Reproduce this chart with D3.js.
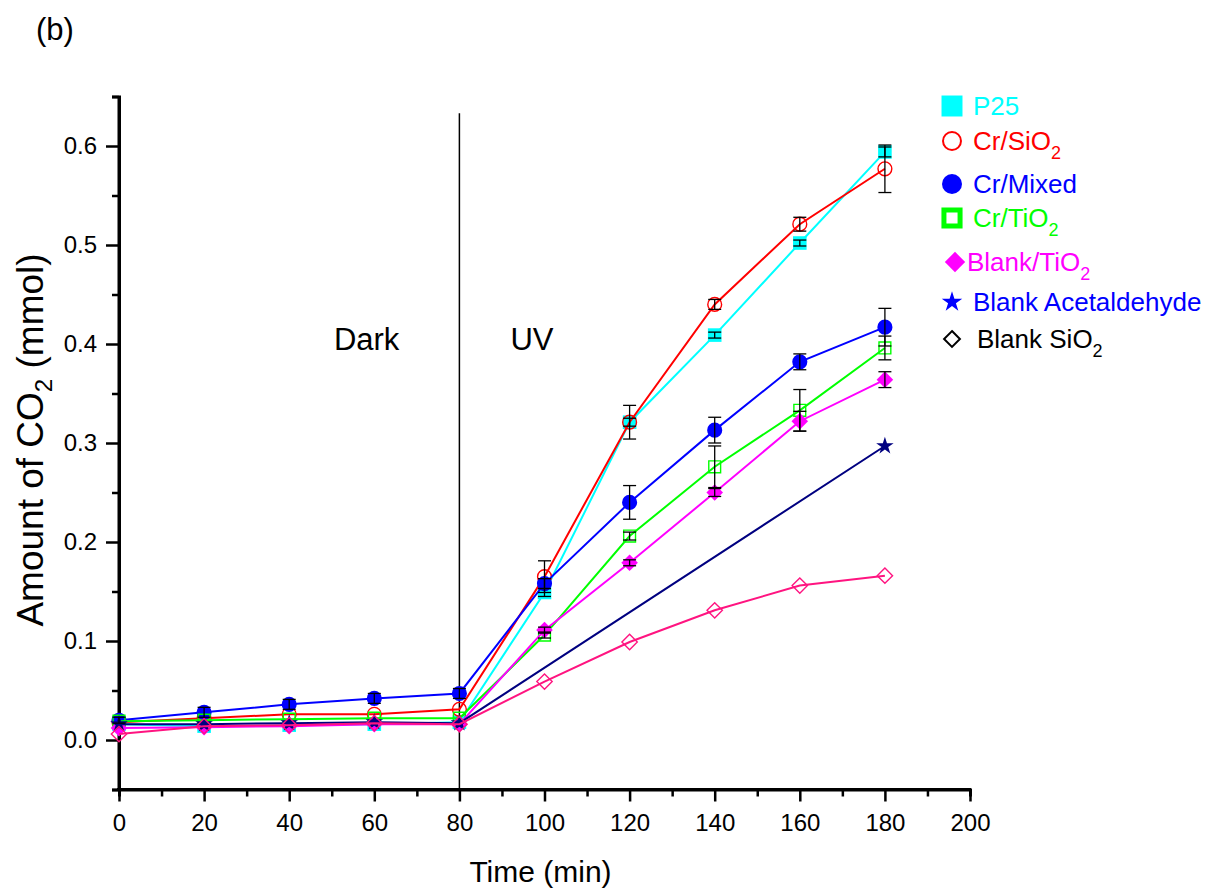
<!DOCTYPE html>
<html>
<head>
<meta charset="utf-8">
<script src="https://cdn.jsdelivr.net/npm/d3@7"></script>
<style>
  html, body { margin: 0; padding: 0; background: #fff; }
  svg text { font-family: "Liberation Sans", Arial, sans-serif; }
</style>
</head>
<body>
<svg id="chart" width="1216" height="888"></svg>
<script>
// Time points (min)
const times = [0, 20, 40, 60, 80, 100, 120, 140, 160, 180];

// CO2 evolved (mmol) for each sample
const p25        = [0.016, 0.014, 0.015, 0.016, 0.018, 0.149, 0.321, 0.409, 0.502, 0.594];
const crSiO2     = [0.018, 0.022, 0.026, 0.026, 0.031, 0.165, 0.321, 0.440, 0.521, 0.577];
const crMixed    = [0.020, 0.028, 0.036, 0.042, 0.047, 0.158, 0.240, 0.313, 0.382, 0.417];
const crTiO2     = [0.019, 0.020, 0.021, 0.022, 0.022, 0.106, 0.206, 0.276, 0.333, 0.396];
const blankTiO2  = [0.012, 0.013, 0.014, 0.016, 0.016, 0.111, 0.179, 0.250, 0.322, 0.364];
const acetTimes  = [0, 20, 40, 60, 80, 180];
const blankAcet  = [0.016, 0.016, 0.017, 0.018, 0.017, 0.297];
const blankSiO2  = [0.006, 0.014, 0.015, 0.017, 0.016, 0.059, 0.099, 0.131, 0.156, 0.166];

// Standard deviations (mmol)
const p25Err       = [0, 0, 0, 0, 0, 0.004, 0.004, 0.003, 0.003, 0.005];
const crSiO2Err    = [0, 0, 0, 0, 0, 0.016, 0.017, 0.005, 0.007, 0.024];
const crMixedErr   = [0.003, 0.005, 0.005, 0.005, 0.005, 0.005, 0.017, 0.013, 0.008, 0.019];
const crTiO2Err    = [0, 0, 0, 0, 0, 0.003, 0.004, 0.021, 0.021, 0.012];
const blankTiO2Err = [0, 0, 0, 0, 0, 0.003, 0.003, 0.004, 0.010, 0.008];

// Axis ticks
const xTicks = [0, 20, 40, 60, 80, 100, 120, 140, 160, 180, 200];
const yTicks = [0.0, 0.1, 0.2, 0.3, 0.4, 0.5, 0.6];

const series = [
  { name: "P25",               sub: "",  times: times,     values: p25,       errs: p25Err,       color: "#00ffff", legendColor: "#00ffff", symbol: "square",  fill: true  },
  { name: "Cr/SiO",            sub: "2", times: times,     values: crSiO2,    errs: crSiO2Err,    color: "#ff0000", legendColor: "#ff0000", symbol: "circle",  fill: false },
  { name: "Cr/Mixed",          sub: "",  times: times,     values: crMixed,   errs: crMixedErr,   color: "#0000ff", legendColor: "#0000ff", symbol: "circle",  fill: true  },
  { name: "Cr/TiO",            sub: "2", times: times,     values: crTiO2,    errs: crTiO2Err,    color: "#00ff00", legendColor: "#00ff00", symbol: "square",  fill: false },
  { name: "Blank/TiO",         sub: "2", times: times,     values: blankTiO2, errs: blankTiO2Err, color: "#ff00ff", legendColor: "#ff00ff", symbol: "diamond", fill: true  },
  { name: "Blank Acetaldehyde",sub: "",  times: acetTimes, values: blankAcet, errs: null,         color: "#000080", legendColor: "#0000ff", symbol: "star",    fill: true  },
  { name: "Blank SiO",         sub: "2", times: times,     values: blankSiO2, errs: null,         color: "#ff1480", legendColor: "#000000", symbol: "diamond", fill: false }
];

const svg = d3.select("#chart");
const margin = { left: 119, right: 246, top: 96.5, bottom: 98.5 };
const W = 1216, H = 888;

const x = d3.scaleLinear().domain([0, 200]).range([margin.left, W - margin.right]);
const y = d3.scaleLinear().domain([-0.05, 0.65]).range([H - margin.bottom, margin.top]);

// Panel label
svg.append("text").attr("x", 36).attr("y", 40).attr("font-size", 31).text("(b)");

// Dark / UV divider
svg.append("line")
  .attr("x1", x(80)).attr("x2", x(80))
  .attr("y1", y(0.633)).attr("y2", y(-0.05))
  .attr("stroke", "#000").attr("stroke-width", 1.5);
svg.append("text").attr("x", x(50.5)).attr("y", y(0.394)).attr("font-size", 31).text("Dark");
svg.append("text").attr("x", x(92)).attr("y", y(0.394)).attr("font-size", 31).text("UV");

// Axes
const xAxisG = svg.append("g").attr("transform", `translate(0,${y(-0.05)})`);
xAxisG.call(d3.axisBottom(x).tickValues(xTicks).tickFormat(d3.format("d")).tickSize(12).tickPadding(12));
xAxisG.append("g").call(d3.axisBottom(x).tickValues(d3.range(10, 200, 20)).tickFormat("").tickSize(7));

const yAxisG = svg.append("g").attr("transform", `translate(${x(0)},0)`);
yAxisG.call(d3.axisLeft(y).tickValues(yTicks).tickFormat(d3.format(".1f")).tickSize(13).tickPadding(9));
yAxisG.append("g").call(d3.axisLeft(y).tickValues([-0.05, 0.05, 0.15, 0.25, 0.35, 0.45, 0.55, 0.65]).tickFormat("").tickSize(7));

svg.selectAll(".domain").attr("stroke", "#000").attr("stroke-width", 3);
svg.selectAll(".tick line").attr("stroke", "#000").attr("stroke-width", 2.5);
svg.selectAll(".tick text").attr("font-size", 24).attr("fill", "#000")
  .attr("font-family", "'Liberation Sans', Arial, sans-serif");
// extend the axis lines a touch past the end ticks
xAxisG.select(".domain").attr("d", `M${x(0) - 2},0H${x(200) + 1}`);
yAxisG.select(".domain").attr("d", `M0,${y(0.65)}V${y(-0.05) + 1}`);

// Axis titles
svg.append("text")
  .attr("x", (x(0) + x(200)) / 2 - 4).attr("y", 882)
  .attr("text-anchor", "middle").attr("font-size", 30).text("Time (min)");
const yTitle = svg.append("text")
  .attr("transform", `translate(43,${(y(0.65) + y(-0.05)) / 2 - 3}) rotate(-90)`)
  .attr("text-anchor", "middle").attr("font-size", 37);
yTitle.append("tspan").text("Amount of CO");
yTitle.append("tspan").attr("font-size", 24).attr("dy", 9).text("2");
yTitle.append("tspan").attr("dy", -9).text(" (mmol)");

// Marker drawing
function symbolPath(kind, size) {
  const types = { square: d3.symbolSquare, circle: d3.symbolCircle, diamond: d3.symbolDiamond2, star: d3.symbolStar };
  return d3.symbol().type(types[kind]).size(size)();
}
// marker areas in the plot (filled / open)
const plotSize = {
  square:  { fill: 185, open: 140 },
  circle:  { fill: 180, open: 150 },
  diamond: { fill: 175, open: 150 },
  star:    { fill: 95,  open: 95 }
};
// marker areas in the legend (filled / open)
const legendSize = {
  square:  { fill: 440, open: 260 },
  circle:  { fill: 314, open: 254 },
  diamond: { fill: 264, open: 160 },
  star:    { fill: 130, open: 130 }
};

const line = d3.line().x(d => x(d.t)).y(d => y(d.v));

series.forEach(s => {
  const pts = s.times.map((t, i) => ({ t: t, v: s.values[i] }));
  const g = svg.append("g");
  g.append("path").datum(pts).attr("d", line)
    .attr("fill", "none").attr("stroke", s.color).attr("stroke-width", 2);
  const sz = plotSize[s.symbol][s.fill ? "fill" : "open"];
  g.selectAll("path.m").data(pts).join("path")
    .attr("class", "m")
    .attr("transform", d => `translate(${x(d.t)},${y(d.v)})`)
    .attr("d", symbolPath(s.symbol, sz))
    .attr("fill", s.fill ? s.color : "none")
    .attr("stroke", s.fill ? "none" : s.color)
    .attr("stroke-width", 1.4);
});

// Error bars
series.filter(s => s.errs).forEach(s => {
  const pts = s.times.map((t, i) => ({ t: t, v: s.values[i], e: s.errs[i] })).filter(d => d.e > 0);
  const g = svg.append("g").attr("stroke", "#000").attr("stroke-width", 1.3);
  pts.forEach(d => {
    const cx = x(d.t);
    g.append("line").attr("x1", cx).attr("x2", cx).attr("y1", y(d.v - d.e)).attr("y2", y(d.v + d.e));
    [d.v - d.e, d.v + d.e].forEach(v => {
      g.append("line").attr("x1", cx - 6.5).attr("x2", cx + 6.5).attr("y1", y(v)).attr("y2", y(v));
    });
  });
});

// Legend
const legendRows = [106, 141, 184, 218, 262, 302, 339];
const legendTextX = [973, 973, 973, 973, 967, 973, 977];
const legend = svg.append("g");
series.forEach((s, i) => {
  const ry = legendRows[i];
  const mx = s.symbol === "diamond" && s.fill ? 955 : 952;
  const sz = legendSize[s.symbol][s.fill ? "fill" : "open"];
  legend.append("path")
    .attr("transform", `translate(${mx},${ry})`)
    .attr("d", symbolPath(s.symbol, sz))
    .attr("fill", s.fill ? s.legendColor : "none")
    .attr("stroke", s.fill ? "none" : s.legendColor)
    .attr("stroke-width", s.symbol === "square" ? 5 : 2);
  const t = legend.append("text").attr("x", legendTextX[i]).attr("y", ry + 9)
    .attr("font-size", 26).attr("fill", s.legendColor);
  t.append("tspan").text(s.name);
  if (s.sub) t.append("tspan").attr("font-size", 18).attr("dy", 9).text(s.sub);
});
</script>
</body>
</html>
